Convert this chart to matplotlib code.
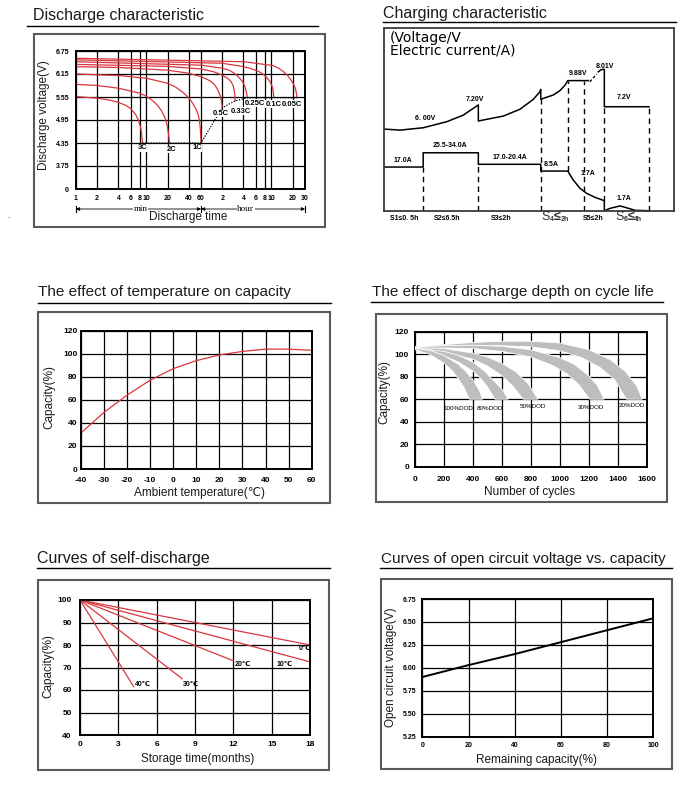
import matplotlib
matplotlib.use('Agg')
import matplotlib.pyplot as plt
import matplotlib.transforms as mtransforms
from matplotlib.patches import Rectangle
from matplotlib.lines import Line2D

# ---------------- data ----------------
# discharge characteristic: time in minutes, voltage in V
dis_rates = ['3C', '2C', '1C', '0.5C', '0.33C', '0.25C', '0.1C', '0.05C']
dis_time = [
    [1, 2, 3, 4, 5, 6, 7.1, 7.6, 8.1, 8.4, 8.6, 8.8],
    [1, 2, 4, 8, 10, 12, 14.5, 16.7, 18.5, 19.7, 20.8, 21.3],
    [1, 2, 4, 10, 20, 26, 32, 38, 44, 50, 54.8, 57, 58.5, 59.8],
    [1, 4, 20, 40, 60, 75, 84, 95, 104, 111, 116, 120],
    [1, 20, 60, 90, 120, 145, 160, 172, 177, 181, 183],
    [1, 60, 120, 150, 178, 205, 233, 250, 260, 268, 274],
    [1, 120, 246, 320, 400, 460, 525, 575, 617, 638, 648],
    [1, 246, 630, 760, 890, 1020, 1140, 1240, 1310, 1355, 1380],
]
dis_volt = [
    [5.56, 5.52, 5.47, 5.41, 5.34, 5.25, 5.08, 4.97, 4.82, 4.70, 4.56, 4.37],
    [5.88, 5.85, 5.78, 5.65, 5.57, 5.47, 5.33, 5.17, 5.00, 4.82, 4.55, 4.37],
    [6.15, 6.13, 6.11, 6.04, 5.91, 5.81, 5.69, 5.57, 5.43, 5.26, 5.08, 4.92, 4.73, 4.38],
    [6.34, 6.32, 6.25, 6.17, 6.08, 6.00, 5.95, 5.85, 5.73, 5.60, 5.47, 5.27],
    [6.40, 6.35, 6.28, 6.21, 6.12, 6.03, 5.95, 5.84, 5.73, 5.60, 5.45],
    [6.47, 6.38, 6.30, 6.25, 6.17, 6.07, 5.95, 5.84, 5.73, 5.62, 5.53],
    [6.52, 6.43, 6.34, 6.28, 6.21, 6.14, 6.04, 5.94, 5.82, 5.68, 5.56],
    [6.56, 6.47, 6.37, 6.30, 6.21, 6.11, 5.99, 5.88, 5.78, 5.66, 5.56],
]
dis_label_t = [9, 22.6, 53, 113, 219, 346, 640, 1180]
dis_label_v = [4.22, 4.18, 4.22, 5.12, 5.18, 5.39, 5.36, 5.36]
cutoff_t = [8.8, 59.8, 120, 183, 274, 1380]
cutoff_v = [4.35, 4.35, 5.27, 5.45, 5.53, 5.53]
dis_xticks = [1, 2, 4, 6, 8, 10, 20, 40, 60, 120, 240, 360, 480, 600, 1200, 1800]
dis_xticklabels = ['1', '2', '4', '6', '8', '10', '20', '40', '60',
                   '2', '4', '6', '8', '10', '20', '30']
dis_yticks = [3.15, 3.75, 4.35, 4.95, 5.55, 6.15, 6.75]
dis_yticklabels = ['0', '3.75', '4.35', '4.95', '5.55', '6.15', '6.75']

# charging characteristic (schematic, 0-100 units across the frame)
chg_v1_x = [0, 5.6, 13.6, 21.7, 27.4, 32.6, 32.6, 41.2, 46.9, 51.5, 53.8, 54.1,
            54.1, 56.1, 58.4, 60.7, 62.5, 63.4, 70.5]
chg_v1_y = [44.7, 44.1, 45.4, 48.7, 52.3, 57.9, 49.1, 51.8, 55.5, 60.9, 65.1, 66.4,
            61.0, 62.1, 63.3, 65.7, 68.8, 71.2, 71.2]
chg_v2_x = [71.0, 73.4]
chg_v2_y = [70.6, 74.8]
chg_v3_x = [73.9, 74.9, 76.0, 76.0, 91.4]
chg_v3_y = [76.0, 77.2, 77.4, 56.9, 56.9]
chg_i_x = [0, 13.6, 13.6, 32.6, 32.6, 54.1, 54.1, 63.4, 65.3, 67.6, 69.9, 72.8, 76.0, 76.0]
chg_i_y = [23.9, 23.9, 31.7, 31.7, 25.4, 25.4, 21.7, 21.7, 16.8, 12.3, 9.5, 7.3, 5.5, 0]
chg_float_x = [76.0, 78.0, 81.4, 84.3, 86.6, 91.4]
chg_float_y = [0, 1.3, 2.6, 1.3, 0.2, 0]
chg_dash_x = [13.6, 32.6, 54.1, 63.4, 69.1, 76.0, 91.4]
chg_dash_top = [23.9, 25.4, 61.0, 71.2, 71.2, 56.9, 56.9]
chg_dash_bot = [0, 0, 0, 21.7, 0, 5.5, 0]
chg_labels = ['6. 00V', '7.20V', '17.0A', '25.5-34.0A', '17.0-20.4A', '8.5A',
              '1.7A', '9.88V', '8.01V', '7.2V', '1.7A']
chg_label_x = [14.1, 31.4, 6.6, 22.8, 43.5, 57.6, 70.5, 66.8, 76.3, 82.8, 82.8]
chg_label_y = [48.7, 59.1, 25.6, 33.6, 27.2, 23.5, 18.3, 73.3, 77.0, 60.0, 4.9]
chg_stage_small = ['S1≤0. 5h', 'S2≤6.5h', 'S3≤2h', 'S5≤2h']
chg_stage_small_x = [7.0, 22.0, 40.4, 72.1]

# temperature vs capacity
temp_c = [-40, -30, -20, -10, 0, 10, 20, 30, 40, 50, 60]
temp_cap = [31, 49, 64, 77, 87, 94, 99, 102, 104, 104, 103]

# discharge depth vs cycle life: outer / inner edges of each band
dod_names = ['20%DOD', '30%DOD', '50%DOD', '80%DOD', '100%DOD']
dod_outer_x = [
    [0, 200, 400, 600, 800, 1000, 1200, 1350, 1450, 1530, 1570],
    [0, 200, 400, 600, 800, 1000, 1100, 1200, 1260, 1306],
    [0, 200, 400, 500, 600, 700, 780, 850],
    [0, 200, 300, 400, 480, 540, 600, 644],
    [0, 100, 200, 300, 350, 400, 440, 467],
]
dod_outer_y = [
    [106.5, 108.5, 110.5, 111.5, 111.5, 110, 104, 95, 85, 72, 60],
    [106.5, 107.5, 108, 107, 104, 97, 91, 81, 72, 60],
    [106, 105, 101, 97.5, 92, 84, 74, 60],
    [105.5, 102.5, 99, 93, 85, 77, 69, 60],
    [105, 103.5, 99, 91, 85, 77, 69, 60],
]
dod_inner_x = [
    [0, 200, 400, 600, 800, 1000, 1150, 1280, 1380, 1460],
    [0, 200, 400, 600, 800, 950, 1050, 1130, 1207],
    [0, 200, 400, 500, 600, 680, 747],
    [0, 200, 300, 400, 450, 500, 552],
    [0, 100, 200, 260, 300, 340, 375],
]
dod_inner_y = [
    [104.5, 106.5, 107.5, 107.5, 106.5, 103, 97, 88, 77, 60],
    [104.5, 105.5, 105, 102.5, 97.5, 90, 82.5, 73, 60],
    [104.5, 102, 95.5, 89.5, 81, 71, 60],
    [104.5, 98.5, 93, 85, 79, 71, 60],
    [104, 100, 92, 85, 78, 70, 60],
]
dod_label_x = [1500, 1215, 815, 517, 300]
dod_label_y = [54, 53, 53.5, 52, 52]

# self-discharge: straight lines from 100 % at month 0
sd_names = ['40℃', '30℃', '20℃', '10℃', '0℃']
sd_end_month = [4.2, 8.0, 12.0, 18, 18]
sd_end_cap = [61.5, 65, 73, 72.5, 80]
sd_label_x = [4.3, 8.05, 12.1, 15.4, 17.1]
sd_label_y = [62.5, 62.5, 71.4, 71.4, 78.5]

# open circuit voltage vs remaining capacity
ocv_cap = [0, 20, 40, 60, 80, 100]
ocv_volt = [5.90, 6.03, 6.15, 6.28, 6.41, 6.54]

# ---------------- layout helpers (pixel coords, top-left origin) ----------------
W, H = 699, 807
plt.rcParams['font.family'] = ['Liberation Sans', 'DejaVu Sans']
plt.rcParams['axes.unicode_minus'] = False
fig = plt.figure(figsize=(W / 100, H / 100), dpi=100)
RED = '#d9363e'


def fx(x):
    return x / W


def fy(y):
    return 1 - y / H


def add_ax(x0, y0, x1, y1):
    return fig.add_axes([fx(x0), fy(y1), (x1 - x0) / W, (y1 - y0) / H])


def frame(x0, y0, x1, y1):
    fig.add_artist(Rectangle((fx(x0), fy(y1)), (x1 - x0) / W, (y1 - y0) / H,
                             transform=fig.transFigure, fill=False,
                             edgecolor='#5a5a5a', lw=1.5))


def title(text, tx, ty, lx0, lx1, ly, size=11.5):
    fig.text(fx(tx), fy(ty), text, fontsize=size, ha='left', va='center', color='#1a1a1a')
    fig.add_artist(Line2D([fx(lx0), fx(lx1)], [fy(ly), fy(ly)], color='black', lw=1.0))


def label(text, x, y, rot=0, size=8.5):
    fig.text(fx(x), fy(y), text, fontsize=size, ha='center', va='center',
             rotation=rot, color='#1a1a1a')


def grid_ax(box, xlim, ylim, xticks, yticks, xtl=None, ytl=None,
            size=6, xpad=4, ypad=4, logx=False):
    ax = add_ax(*box)
    if logx:
        ax.set_xscale('log')
    ax.set_xlim(xlim)
    ax.set_ylim(ylim)
    ax.set_xticks(xticks)
    ax.set_yticks(yticks)
    if xtl is not None:
        ax.set_xticklabels(xtl)
    if ytl is not None:
        ax.set_yticklabels(ytl)
    ax.minorticks_off()
    ax.grid(True, color='black', lw=0.9)
    ax.tick_params(length=0, labelsize=size)
    ax.tick_params(axis='x', pad=xpad)
    ax.tick_params(axis='y', pad=ypad)
    for s in ax.spines.values():
        s.set_linewidth(1.4)
    for t in ax.get_xticklabels() + ax.get_yticklabels():
        t.set_fontweight('bold')
    return ax


# ---------------- 1. discharge characteristic ----------------
title('Discharge characteristic', 33, 15.5, 27, 318, 26)
frame(34, 34, 325, 227)
ax1 = grid_ax((76, 51, 305, 189), (1, 1800), (3.15, 6.75), dis_xticks, dis_yticks,
              dis_xticklabels, dis_yticklabels, size=5, xpad=4, ypad=5, logx=True)
for t, v in zip(dis_time, dis_volt):
    ax1.plot(t, v, color=RED, lw=0.9)
ax1.plot(cutoff_t, cutoff_v, color='black', lw=0.9, ls=(0, (1, 1.2)))
for name, t, v in zip(dis_rates, dis_label_t, dis_label_v):
    ax1.text(t, v, name, fontsize=5.5, ha='center', va='center', fontweight='bold',
             bbox=dict(facecolor='white', edgecolor='none', pad=0.2))
tr = mtransforms.blended_transform_factory(ax1.transData, ax1.transAxes)
yb = -0.145
for a, b in [(1, 60), (60, 1800)]:
    ax1.annotate('', xy=(b, yb), xytext=(a, yb), xycoords=tr, textcoords=tr,
                 annotation_clip=False,
                 arrowprops=dict(arrowstyle='<|-|>', color='black', lw=0.6,
                                 mutation_scale=5, shrinkA=0, shrinkB=0))
for xb in [1, 60, 1800]:
    ax1.plot([xb, xb], [yb - 0.02, yb + 0.02], color='black', lw=0.8,
             transform=tr, clip_on=False)
for txt, xm in [('min', 8.2), ('hour', 258)]:
    ax1.text(xm, yb, txt, transform=tr, fontsize=6.5, family='Liberation Serif',
             ha='center', va='center',
             bbox=dict(facecolor='white', edgecolor='none', pad=0.3))
label('Discharge time', 188, 217.5)
label('Discharge voltage(V)', 44, 115, rot=90)
fig.text(fx(8), fy(217), '.', fontsize=6, ha='center', va='center')

# ---------------- 2. charging characteristic ----------------
title('Charging characteristic', 383, 13.5, 383, 676, 22.3)
ax2 = add_ax(383.7, 28, 674, 210.7)
ax2.set_xlim(0, 100)
ax2.set_ylim(0, 100)
ax2.set_xticks([])
ax2.set_yticks([])
for s in ax2.spines.values():
    s.set_linewidth(1.3)
    s.set_edgecolor('#3a3a3a')
for xs, ys in [(chg_v1_x, chg_v1_y), (chg_v3_x, chg_v3_y), (chg_i_x, chg_i_y)]:
    ax2.plot(xs, ys, color='black', lw=1.1)
ax2.plot(chg_float_x, chg_float_y, color='black', lw=1.1, clip_on=False)
ax2.plot(chg_v2_x, chg_v2_y, color='black', lw=1.0, ls=(0, (2, 1.5)))
for x, top, bot in zip(chg_dash_x, chg_dash_top, chg_dash_bot):
    ax2.plot([x, x], [bot, top], color='black', lw=1.0, ls=(0, (4, 3)))
for txt, x, y in zip(chg_labels, chg_label_x, chg_label_y):
    ax2.text(x, y, txt, fontsize=5, fontweight='bold', ha='center', va='bottom')
for txt, x in zip(chg_stage_small, chg_stage_small_x):
    ax2.text(x, -4.2, txt, fontsize=5, fontweight='bold', ha='center', va='center')


def mixed(x, parts):
    t = ax2.text(x, -7.0, parts[0][0], fontsize=parts[0][1], ha='left', va='bottom',
                 color='#333333')
    for txt, sz in parts[1:]:
        t = ax2.annotate(txt, xy=(1, 0), xycoords=t, fontsize=sz, ha='left',
                         va='bottom', fontweight='bold', color='#333333')


mixed(54.4, [('S', 9), ('4', 5), ('≤', 9), ('2h', 5)])
mixed(79.7, [('S', 9), ('6', 5), ('≤', 9), ('4h', 5)])
fig.text(fx(390), fy(31), '(Voltage/V\nElectric current/A)', fontsize=10,
         family='DejaVu Sans', ha='left', va='top', linespacing=0.85)

# ---------------- 3. temperature ----------------
title('The effect of temperature on capacity', 38.3, 291.7, 38, 331, 302.7, size=11)
frame(38.3, 311.7, 330, 502.7)
ax3 = grid_ax((80.7, 330.7, 311.7, 469), (-40, 60), (0, 120),
              list(range(-40, 61, 10)), list(range(0, 121, 20)), size=6, xpad=6, ypad=2.5)
ax3.plot(temp_c, temp_cap, color=RED, lw=0.9)
label('Ambient temperature(℃)', 199, 493.3)
label('Capacity(%)', 49, 396.7, rot=90)

# ---------------- 4. cycle life ----------------
title('The effect of discharge depth on cycle life', 371.7, 291.7, 371, 663, 301.7, size=11)
frame(375.7, 314.3, 666.7, 501.7)
ax4 = grid_ax((415, 331.7, 646.7, 466.7), (0, 1600), (0, 120),
              list(range(0, 1601, 200)), list(range(0, 121, 20)), size=6, xpad=6.5, ypad=4.3)
for ox, oy, ix, iy in zip(dod_outer_x, dod_outer_y, dod_inner_x, dod_inner_y):
    ax4.fill(ox + ix[::-1], oy + iy[::-1], facecolor='#bdbdbd', edgecolor='white',
             lw=0.6, zorder=3)
for name, x, y in zip(dod_names, dod_label_x, dod_label_y):
    ax4.text(x, y, name, fontsize=4.5, ha='center', va='center', zorder=4)
label('Number of cycles', 529, 492.3)
label('Capacity(%)', 384, 391.7, rot=90)

# ---------------- 5. self-discharge ----------------
title('Curves of self-discharge', 37.3, 558.8, 37, 330, 568.3)
frame(37.7, 580, 329.3, 770)
ax5 = grid_ax((80, 600, 310, 735), (0, 18), (40, 100),
              list(range(0, 19, 3)), list(range(40, 101, 10)), size=6, xpad=4.3, ypad=6)
for name, m, c, lx, ly in zip(sd_names, sd_end_month, sd_end_cap, sd_label_x, sd_label_y):
    ax5.plot([0, m], [100, c], color=RED, lw=0.9, clip_on=False)
    ax5.text(lx, ly, name, fontsize=5, ha='left', va='center', fontweight='bold')
label('Storage time(months)', 198, 759)
label('Capacity(%)', 48, 665.8, rot=90)

# ---------------- 6. open circuit voltage ----------------
title('Curves of open circuit voltage vs. capacity', 380.7, 558.8, 380, 672, 568.3, size=11)
frame(380.7, 579.3, 671.7, 769.3)
ax6 = grid_ax((422.3, 599, 653.3, 736.7), (0, 100), (5.25, 6.75),
              list(range(0, 101, 20)), [5.25, 5.5, 5.75, 6.0, 6.25, 6.5, 6.75],
              ytl=['5.25', '5.50', '5.75', '6.00', '6.25', '6.50', '6.75'],
              size=5, xpad=3.5, ypad=4)
ax6.plot(ocv_cap, ocv_volt, color='black', lw=1.4)
label('Remaining capacity(%)', 537, 760)
label('Open circuit voltage(V)', 391, 667.5, rot=90)

fig.savefig('out.png', dpi=100)
